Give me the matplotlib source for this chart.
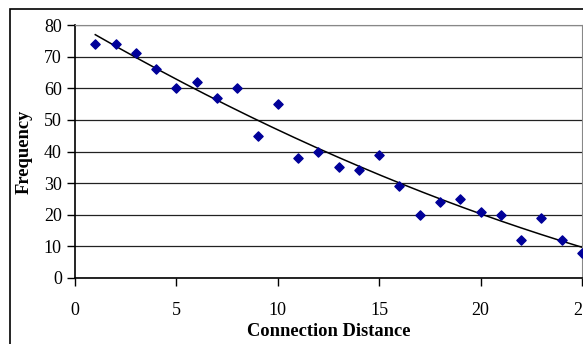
import numpy as np
import matplotlib.pyplot as plt
from matplotlib.patches import Rectangle

distance = [1, 2, 3, 4, 5, 6, 7, 8, 9, 10, 11, 12, 13, 14, 15, 16, 17, 18, 19, 20, 21, 22, 23, 24, 25]
frequency = [74, 74, 71, 66, 60, 62, 57, 60, 45, 55, 38, 40, 35, 34, 39, 29, 20, 24, 25, 21, 20, 12, 19, 12, 8]

plt.rcParams["font.family"] = "Liberation Serif"

fig = plt.figure(figsize=(5.83, 3.44), dpi=100)
ax = fig.add_axes([75 / 583, 1 - 278 / 344, 507 / 583, 253 / 344])

# outer chart frame (cut off at right and bottom like the source)
fig.patches.append(Rectangle((10 / 583, -0.1), 1.2, 1 - 9 / 344 + 0.1,
                             transform=fig.transFigure, fill=False,
                             edgecolor="black", linewidth=1.2))

ax.scatter(distance, frequency, marker="D", s=22, color="#000099", zorder=3, clip_on=False)

# 2nd order polynomial trendline
coef = np.polyfit(distance, frequency, 2)
xs = np.linspace(distance[0], distance[-1], 200)
ax.plot(xs, np.polyval(coef, xs), color="black", linewidth=1.1, zorder=2)

ax.set_xlim(0, 25)
ax.set_ylim(0, 80)
ax.set_xticks(range(0, 26, 5))
ax.set_yticks(range(0, 81, 10))
ax.yaxis.grid(True, color="#222222", linewidth=0.9)
ax.set_axisbelow(True)

for side in ["top", "right"]:
    ax.spines[side].set_color("#888888")
for side in ["left", "bottom"]:
    ax.spines[side].set_linewidth(1.2)

ax.tick_params(labelsize=13, length=6, width=1)
ax.tick_params(axis="x", pad=11)
ax.set_xlabel("Connection Distance", fontsize=13.3, fontweight="bold", labelpad=3)
ax.set_ylabel("Frequency", fontsize=13.3, fontweight="bold", labelpad=8)

fig.savefig("out.png", dpi=100)
